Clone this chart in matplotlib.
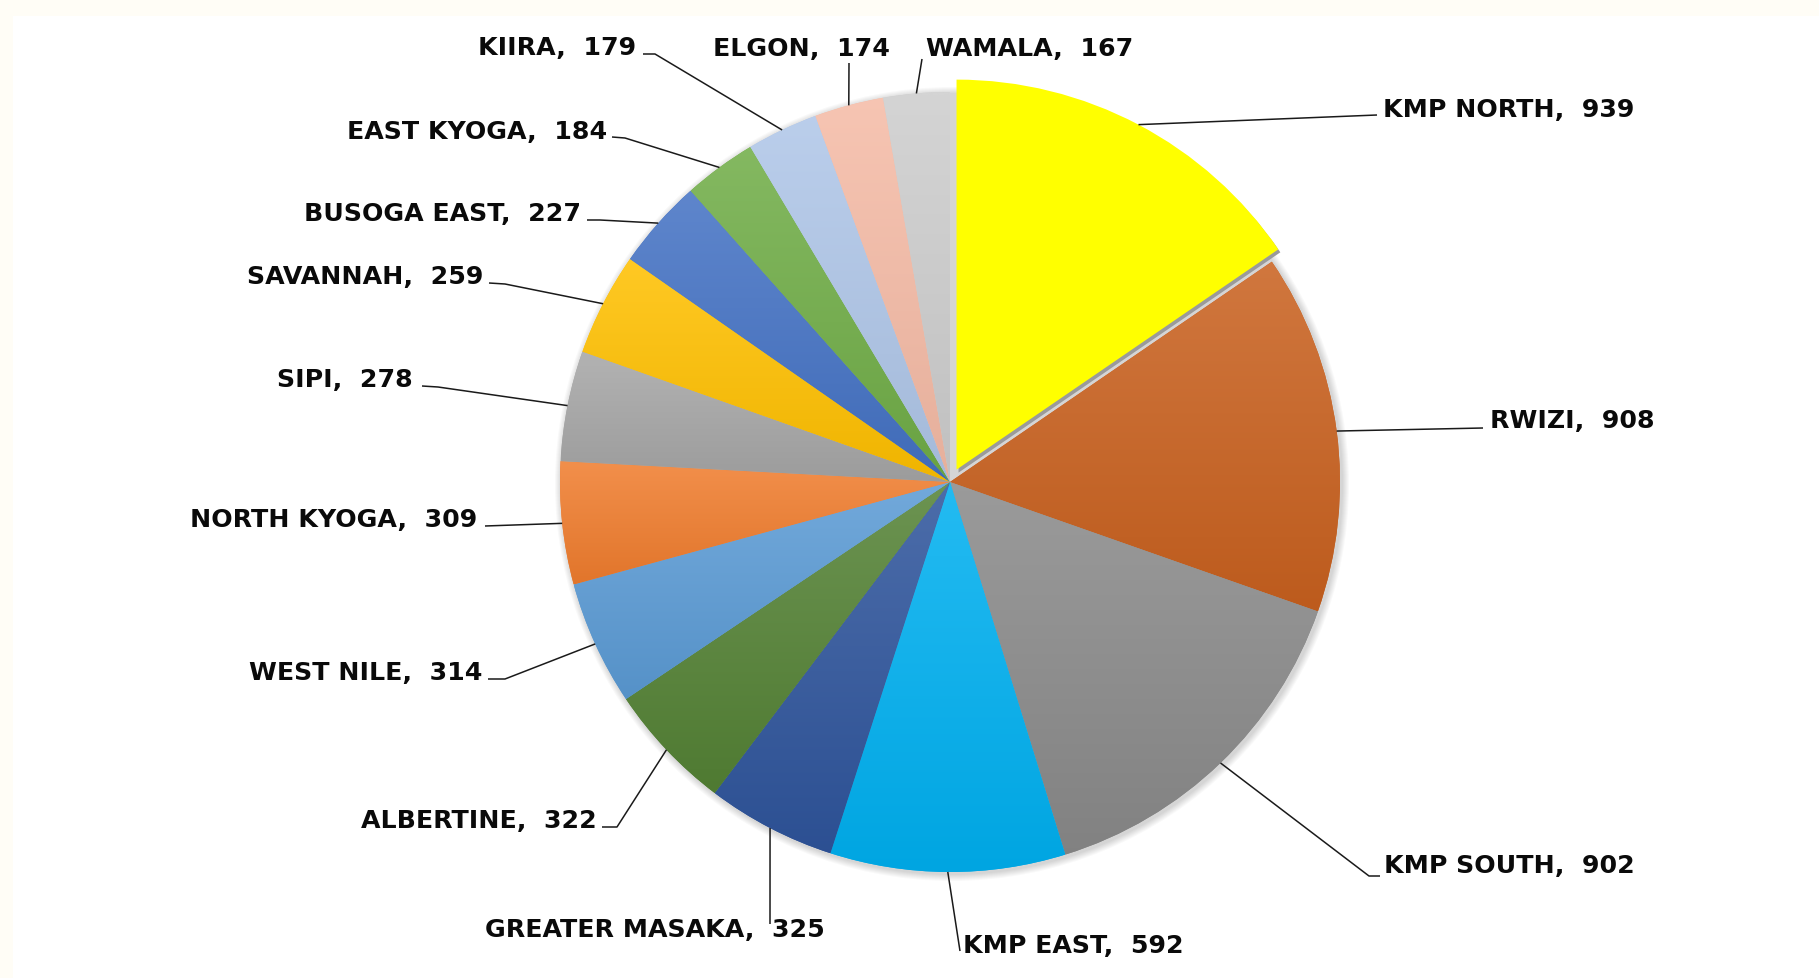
import numpy as np
import matplotlib
matplotlib.use('Agg')
import matplotlib.pyplot as plt
from matplotlib.colors import to_rgb
from matplotlib.patches import Circle, Rectangle, Wedge

W, H = 1819, 979

# data, clockwise from 12 o'clock
regions = ['KMP NORTH', 'RWIZI', 'KMP SOUTH', 'KMP EAST', 'GREATER MASAKA',
           'ALBERTINE', 'WEST NILE', 'NORTH KYOGA', 'SIPI', 'SAVANNAH',
           'BUSOGA EAST', 'EAST KYOGA', 'KIIRA', 'ELGON', 'WAMALA']
counts = [939, 908, 902, 592, 325, 322, 314, 309, 278, 259, 227, 184, 179, 174, 167]
colors = ['#FFFF00', '#C9611F', '#8A8A8A', '#00B0F0', '#2F559C',
          '#548235', '#5B9BD5', '#F07D2E', '#A6A6A6', '#FFC000',
          '#4472C4', '#70AD47', '#AFC6E8', '#F5BBA6', '#CDCDCD']

# layout in pixels (from top-left): text x, baseline y, alignment
label_pos = [(1383, 117, 'left'), (1490, 428, 'left'), (1384, 873, 'left'),
             (963, 953, 'left'), (825, 937, 'right'), (597, 828, 'right'),
             (482, 680, 'right'), (477, 527, 'right'), (413, 387, 'right'),
             (483, 284, 'right'), (581, 221, 'right'), (607, 139, 'right'),
             (636, 55, 'right'), (890, 56, 'right'), (926, 56, 'left')]
# where the leader meets the label, and an optional elbow
attach = [(1377, 116), (1483, 429), (1380, 877), (960, 952), (770, 925),
          (602, 828), (488, 680), (485, 527), (422, 387), (489, 284),
          (587, 221), (612, 138), (643, 55), (849, 64), (922, 60)]
elbows = [None, None, (1369, 877), None, None, (617, 828), (505, 680), None,
          (438, 388), (505, 285), (600, 221), (625, 139), (655, 55), None, None]

cx, cy, R = 950, 483, 390


def py(y):
    return H - y


def shade(c, f):
    c = np.array(to_rgb(c))
    if f > 0:
        return c + (1 - c) * f
    return c * (1 + f)


fig = plt.figure(figsize=(W / 100, H / 100), dpi=100)
fig.patch.set_facecolor('white')
fig.patches.append(Rectangle((0, 1 - 17 / H), 1, 17 / H, transform=fig.transFigure,
                             facecolor='#FFFDF6', edgecolor='none'))
fig.patches.append(Rectangle((0, 0), 13 / W, 1, transform=fig.transFigure,
                             facecolor='#FFFDF6', edgecolor='none'))
ax = fig.add_axes([0, 0, 1, 1])
ax.patch.set_alpha(0)

# soft shadow around the pie
for k in range(7):
    ax.add_patch(Circle((cx + 2, py(cy) - 2), R + 7 - k, facecolor='#000000',
                        alpha=0.025, edgecolor='none', zorder=1))

explode = [14] + [0] * (len(counts) - 1)
wedges, _ = ax.pie(counts, colors=colors, startangle=90, counterclock=False,
                   center=(cx, py(cy)), radius=R, explode=explode,
                   wedgeprops=dict(linewidth=0, zorder=2))

# vertical gradient on each slice, lighter on top
for i, w in enumerate(wedges):
    if i == 0:
        continue
    ext = w.get_path().get_extents()
    t = np.linspace(0, 1, 64)[:, None]
    top, bot = shade(colors[i], 0.14), shade(colors[i], -0.06)
    img = bot[None, :] * (1 - t[..., None]) + top[None, :] * t[..., None]
    im = ax.imshow(img, extent=[ext.x0, ext.x1, ext.y0, ext.y1], origin='lower',
                   interpolation='bilinear', zorder=2.5, aspect='auto')
    im.set_clip_path(w)

# shadow under the exploded slice
w0 = wedges[0]
ax.add_patch(Wedge((w0.center[0] + 2, w0.center[1] - 3), R, w0.theta1, w0.theta2,
                   facecolor='#9A9A9A', edgecolor='none', zorder=3))
w0.set_zorder(4)

for i, w in enumerate(wedges):
    mid = np.deg2rad((w.theta1 + w.theta2) / 2)
    x0 = w.center[0] + R * np.cos(mid)
    y0 = w.center[1] + R * np.sin(mid)
    pts = [(x0, y0)]
    if elbows[i] is not None:
        pts.append((elbows[i][0], py(elbows[i][1])))
    pts.append((attach[i][0], py(attach[i][1])))
    xs, ys = zip(*pts)
    ax.plot(xs, ys, color='#1a1a1a', lw=1.1, zorder=5, solid_capstyle='butt')
    tx, ty, ha = label_pos[i]
    ax.text(tx, py(ty), f'{regions[i]},  {counts[i]}', ha=ha, va='baseline',
            fontsize=18.2, fontweight='bold', family='DejaVu Sans',
            color='#0a0a0a', zorder=6)

ax.set_xlim(0, W)
ax.set_ylim(0, H)
ax.set_aspect('equal')
ax.axis('off')

fig.savefig('out.png', dpi=100, facecolor=fig.get_facecolor())
